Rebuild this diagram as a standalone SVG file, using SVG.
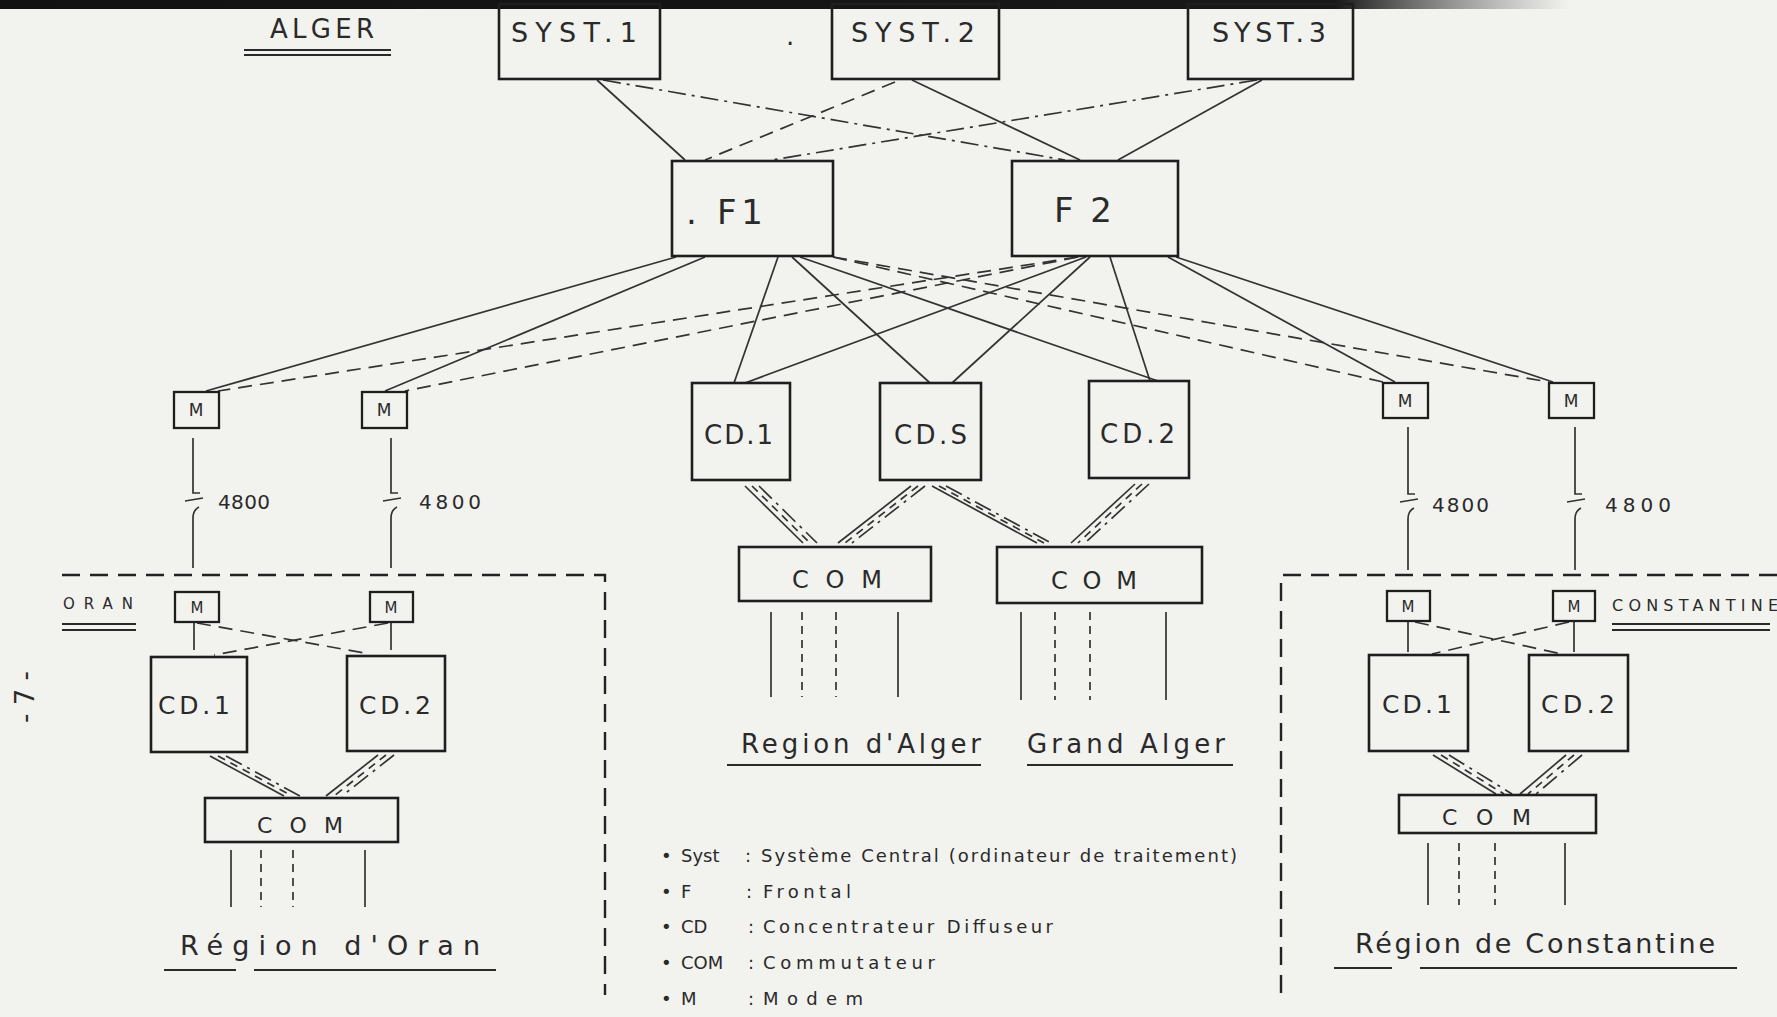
<svg xmlns="http://www.w3.org/2000/svg" width="1777" height="1017" viewBox="0 0 1777 1017">
<defs>
<style>
.box{fill:none;stroke:#1e1e1e;stroke-width:2.6}
.mb{fill:none;stroke:#1e1e1e;stroke-width:2.3}
.ln{fill:none;stroke:#333;stroke-width:1.7}
.dsh{stroke-dasharray:14 8}
.dd{stroke-dasharray:18 6 3 6}
.sd{stroke-dasharray:8 6}
.brd{fill:none;stroke:#222;stroke-width:2.4;stroke-dasharray:18 10}
.ul{fill:none;stroke:#2a2a2a;stroke-width:1.8}
.t{font-family:"DejaVu Sans","Liberation Sans",sans-serif;fill:#2a2a2a}
.c{text-anchor:middle}
</style>
<linearGradient id="band" x1="0" x2="1" y1="0" y2="0">
<stop offset="0" stop-color="#111"/>
<stop offset="0.85" stop-color="#181818"/>
<stop offset="1" stop-color="#555" stop-opacity="0"/>
</linearGradient>
</defs>
<rect width="1777" height="1017" fill="#f2f2ef"/>
<rect x="0" y="0" width="1570" height="9" fill="url(#band)"/>

<g id="connectors">
<!-- SYST -> F -->
<line class="ln" x1="597" y1="80" x2="685" y2="160"/>
<line class="ln dd" x1="603" y1="80" x2="1065" y2="160"/>
<line class="ln dsh" x1="895" y1="82" x2="705" y2="160"/>
<line class="ln" x1="912" y1="80" x2="1080" y2="160"/>
<line class="ln dd" x1="1257" y1="80" x2="772" y2="160"/>
<line class="ln" x1="1262" y1="80" x2="1118" y2="160"/>
<!-- F -> M -->
<line class="ln" x1="676" y1="257" x2="206" y2="391"/>
<line class="ln" x1="705" y1="257" x2="385" y2="391"/>
<line class="ln dsh" x1="1078" y1="257" x2="218" y2="391"/>
<line class="ln dsh" x1="1078" y1="257" x2="405" y2="391"/>
<line class="ln" x1="1168" y1="257" x2="1395" y2="382"/>
<line class="ln" x1="1176" y1="257" x2="1553" y2="382"/>
<line class="ln dsh" x1="833" y1="257" x2="1383" y2="382"/>
<line class="ln dsh" x1="833" y1="257" x2="1549" y2="382"/>
<!-- F -> CD -->
<line class="ln" x1="778" y1="257" x2="734" y2="383"/>
<line class="ln" x1="792" y1="257" x2="930" y2="383"/>
<line class="ln" x1="800" y1="257" x2="1158" y2="381"/>
<line class="ln" x1="1086" y1="257" x2="745" y2="383"/>
<line class="ln" x1="1090" y1="257" x2="952" y2="383"/>
<line class="ln" x1="1110" y1="257" x2="1150" y2="381"/>
<!-- 4800 links -->
<path class="ln" d="M193,438 V493 H200 M185,501 L203,498 M199,507 Q193,510 193,518 V568"/>
<path class="ln" d="M391,438 V493 H398 M383,501 L401,498 M397,507 Q391,510 391,518 V568"/>
<path class="ln" d="M1408,427 V494 H1415 M1400,502 L1418,499 M1414,508 Q1408,511 1408,519 V570"/>
<path class="ln" d="M1575,427 V494 H1582 M1567,502 L1585,499 M1581,508 Q1575,511 1575,519 V570"/>
<!-- central CD -> COM bundles -->
<line class="ln" x1="745" y1="486" x2="803" y2="543"/>
<line class="ln sd" x1="752" y1="486" x2="810" y2="543"/>
<line class="ln dd" x1="759" y1="486" x2="817" y2="543"/>
<line class="ln" x1="911" y1="486" x2="838" y2="543"/>
<line class="ln sd" x1="918" y1="486" x2="845" y2="543"/>
<line class="ln dd" x1="925" y1="486" x2="852" y2="543"/>
<line class="ln" x1="932" y1="486" x2="1037" y2="543"/>
<line class="ln sd" x1="939" y1="486" x2="1044" y2="543"/>
<line class="ln dd" x1="946" y1="486" x2="1051" y2="543"/>
<line class="ln" x1="1135" y1="484" x2="1071" y2="543"/>
<line class="ln sd" x1="1142" y1="484" x2="1078" y2="543"/>
<line class="ln dd" x1="1149" y1="484" x2="1085" y2="543"/>
<!-- central COM outputs -->
<line class="ln" x1="771" y1="612" x2="771" y2="697"/>
<line class="ln sd" x1="802" y1="612" x2="802" y2="697"/>
<line class="ln sd" x1="836" y1="612" x2="836" y2="697"/>
<line class="ln" x1="898" y1="612" x2="898" y2="697"/>
<line class="ln" x1="1021" y1="612" x2="1021" y2="700"/>
<line class="ln sd" x1="1055" y1="612" x2="1055" y2="700"/>
<line class="ln sd" x1="1090" y1="612" x2="1090" y2="700"/>
<line class="ln" x1="1166" y1="612" x2="1166" y2="700"/>
<!-- Oran -->
<line class="ln" x1="194" y1="623" x2="194" y2="650"/>
<line class="ln" x1="391" y1="623" x2="391" y2="650"/>
<line class="ln dsh" x1="197" y1="623" x2="370" y2="654"/>
<line class="ln dsh" x1="388" y1="623" x2="214" y2="655"/>
<line class="ln" x1="210" y1="756" x2="284" y2="796"/>
<line class="ln sd" x1="218" y1="756" x2="292" y2="796"/>
<line class="ln dd" x1="226" y1="756" x2="300" y2="796"/>
<line class="ln" x1="378" y1="755" x2="326" y2="796"/>
<line class="ln sd" x1="386" y1="755" x2="334" y2="796"/>
<line class="ln dd" x1="394" y1="755" x2="342" y2="796"/>
<line class="ln" x1="231" y1="850" x2="231" y2="907"/>
<line class="ln sd" x1="261" y1="850" x2="261" y2="907"/>
<line class="ln sd" x1="293" y1="850" x2="293" y2="907"/>
<line class="ln" x1="365" y1="850" x2="365" y2="907"/>
<!-- Constantine -->
<line class="ln" x1="1408" y1="622" x2="1408" y2="652"/>
<line class="ln" x1="1574" y1="622" x2="1574" y2="652"/>
<line class="ln dsh" x1="1415" y1="622" x2="1562" y2="654"/>
<line class="ln dsh" x1="1569" y1="622" x2="1432" y2="654"/>
<line class="ln" x1="1433" y1="755" x2="1496" y2="794"/>
<line class="ln sd" x1="1441" y1="755" x2="1504" y2="794"/>
<line class="ln dd" x1="1449" y1="755" x2="1512" y2="794"/>
<line class="ln" x1="1566" y1="755" x2="1520" y2="794"/>
<line class="ln sd" x1="1574" y1="755" x2="1528" y2="794"/>
<line class="ln dd" x1="1582" y1="755" x2="1536" y2="794"/>
<line class="ln" x1="1428" y1="843" x2="1428" y2="905"/>
<line class="ln sd" x1="1459" y1="843" x2="1459" y2="905"/>
<line class="ln sd" x1="1495" y1="843" x2="1495" y2="905"/>
<line class="ln" x1="1565" y1="843" x2="1565" y2="905"/>
</g>

<g id="regions">
<path class="brd" d="M62,575 H605 V995"/>
<path class="brd" d="M1777,575 H1281 V995"/>
</g>

<g id="alger-label">
<text class="t" x="270" y="38" font-size="26" textLength="104" lengthAdjust="spacing">ALGER</text>
<line class="ul" x1="244" y1="50" x2="391" y2="50"/>
<line class="ul" x1="244" y1="55" x2="391" y2="55"/>
</g>

<g id="syst1"><rect class="box" x="499" y="4" width="161" height="75"/><text class="t" x="511" y="42" font-size="27" textLength="126" lengthAdjust="spacing">SYST.1</text></g>
<g id="dot"><text class="t" x="786" y="45" font-size="26">.</text></g>
<g id="syst2"><rect class="box" x="832" y="4" width="167" height="75"/><text class="t" x="851" y="42" font-size="27" textLength="124" lengthAdjust="spacing">SYST.2</text></g>
<g id="syst3"><rect class="box" x="1188" y="4" width="165" height="75"/><text class="t" x="1212" y="42" font-size="27" textLength="114" lengthAdjust="spacing">SYST.3</text></g>

<g id="f1"><rect class="box" x="672" y="161" width="161" height="95"/><text class="t" x="686" y="224" font-size="34" textLength="77" lengthAdjust="spacing">. F1</text></g>
<g id="f2"><rect class="box" x="1012" y="161" width="166" height="95"/><text class="t" x="1054" y="222" font-size="34" textLength="58" lengthAdjust="spacing">F2</text></g>

<g id="m-a"><rect class="mb" x="174" y="392" width="45" height="36"/><text class="t c" x="196" y="416" font-size="17">M</text></g>
<g id="m-b"><rect class="mb" x="362" y="392" width="45" height="36"/><text class="t c" x="384" y="416" font-size="17">M</text></g>
<g id="m-c"><rect class="mb" x="1383" y="383" width="45" height="35"/><text class="t c" x="1405" y="407" font-size="17">M</text></g>
<g id="m-d"><rect class="mb" x="1549" y="383" width="45" height="35"/><text class="t c" x="1571" y="407" font-size="17">M</text></g>

<g id="lbl-4800">
<text class="t" x="218" y="509" font-size="20" textLength="52" lengthAdjust="spacing">4800</text>
<text class="t" x="419" y="509" font-size="20" textLength="62" lengthAdjust="spacing">4800</text>
<text class="t" x="1432" y="512" font-size="20" textLength="57" lengthAdjust="spacing">4800</text>
<text class="t" x="1605" y="512" font-size="20" textLength="66" lengthAdjust="spacing">4800</text>
</g>

<g id="cd1"><rect class="box" x="692" y="383" width="98" height="97"/><text class="t" x="704" y="444" font-size="26" textLength="69" lengthAdjust="spacing">CD.1</text></g>
<g id="cds"><rect class="box" x="880" y="383" width="101" height="97"/><text class="t" x="894" y="444" font-size="26" textLength="73" lengthAdjust="spacing">CD.S</text></g>
<g id="cd2"><rect class="box" x="1089" y="381" width="100" height="97"/><text class="t" x="1100" y="443" font-size="26" textLength="75" lengthAdjust="spacing">CD.2</text></g>

<g id="com1"><rect class="box" x="739" y="547" width="192" height="54"/><text class="t" x="792" y="588" font-size="24" textLength="90" lengthAdjust="spacing">COM</text></g>
<g id="com2"><rect class="box" x="997" y="547" width="205" height="56"/><text class="t" x="1051" y="589" font-size="24" textLength="86" lengthAdjust="spacing">COM</text></g>

<g id="lbl-alger">
<text class="t" x="741" y="753" font-size="26" textLength="240" lengthAdjust="spacing">Region d'Alger</text>
<line class="ul" x1="727" y1="765" x2="981" y2="765"/>
<text class="t" x="1027" y="753" font-size="26" textLength="198" lengthAdjust="spacing">Grand Alger</text>
<line class="ul" x1="1027" y1="765" x2="1233" y2="765"/>
</g>

<g id="oran">
<text class="t" x="63" y="609" font-size="15" textLength="70" lengthAdjust="spacing">ORAN</text>
<line class="ul" x1="62" y1="624" x2="136" y2="624"/>
<line class="ul" x1="62" y1="630" x2="136" y2="630"/>
</g>
<g id="oran-m1"><rect class="mb" x="175" y="592" width="44" height="30"/><text class="t c" x="197" y="613" font-size="15">M</text></g>
<g id="oran-m2"><rect class="mb" x="370" y="592" width="43" height="30"/><text class="t c" x="391" y="613" font-size="15">M</text></g>
<g id="oran-cd1"><rect class="box" x="151" y="657" width="96" height="95"/><text class="t" x="158" y="714" font-size="25" textLength="72" lengthAdjust="spacing">CD.1</text></g>
<g id="oran-cd2"><rect class="box" x="347" y="656" width="98" height="95"/><text class="t" x="359" y="714" font-size="25" textLength="72" lengthAdjust="spacing">CD.2</text></g>
<g id="oran-com"><rect class="box" x="205" y="798" width="193" height="44"/><text class="t" x="257" y="833" font-size="22" textLength="86" lengthAdjust="spacing">COM</text></g>
<g id="lbl-oran">
<text class="t" x="180" y="955" font-size="27" textLength="300" lengthAdjust="spacing">Région d'Oran</text>
<line class="ul" x1="164" y1="970" x2="236" y2="970"/>
<line class="ul" x1="254" y1="970" x2="496" y2="970"/>
</g>

<g id="constantine">
<text class="t" x="1612" y="611" font-size="16" textLength="166" lengthAdjust="spacing">CONSTANTINE</text>
<line class="ul" x1="1612" y1="624" x2="1770" y2="624"/>
<line class="ul" x1="1612" y1="630" x2="1770" y2="630"/>
</g>
<g id="const-m1"><rect class="mb" x="1387" y="591" width="43" height="30"/><text class="t c" x="1408" y="612" font-size="15">M</text></g>
<g id="const-m2"><rect class="mb" x="1553" y="591" width="42" height="30"/><text class="t c" x="1574" y="612" font-size="15">M</text></g>
<g id="const-cd1"><rect class="box" x="1369" y="655" width="99" height="96"/><text class="t" x="1382" y="713" font-size="25" textLength="70" lengthAdjust="spacing">CD.1</text></g>
<g id="const-cd2"><rect class="box" x="1529" y="655" width="99" height="96"/><text class="t" x="1541" y="713" font-size="25" textLength="74" lengthAdjust="spacing">CD.2</text></g>
<g id="const-com"><rect class="box" x="1399" y="795" width="197" height="38"/><text class="t" x="1442" y="825" font-size="22" textLength="89" lengthAdjust="spacing">COM</text></g>
<g id="lbl-const">
<text class="t" x="1355" y="953" font-size="27" textLength="360" lengthAdjust="spacing">Région de Constantine</text>
<line class="ul" x1="1334" y1="968" x2="1392" y2="968"/>
<line class="ul" x1="1420" y1="968" x2="1737" y2="968"/>
</g>

<g id="legend" class="t" font-size="18">
<text x="661" y="862">•</text><text x="681" y="862">Syst</text><text x="745" y="862">:</text><text x="761" y="862" textLength="476" lengthAdjust="spacing">Système Central (ordinateur de traitement)</text>
<text x="661" y="898">•</text><text x="681" y="898">F</text><text x="746" y="898">:</text><text x="763" y="898" textLength="88" lengthAdjust="spacing">Frontal</text>
<text x="661" y="933">•</text><text x="681" y="933">CD</text><text x="748" y="933">:</text><text x="763" y="933" textLength="290" lengthAdjust="spacing">Concentrateur Diffuseur</text>
<text x="661" y="969">•</text><text x="681" y="969">COM</text><text x="748" y="969">:</text><text x="763" y="969" textLength="172" lengthAdjust="spacing">Commutateur</text>
<text x="661" y="1005">•</text><text x="681" y="1005">M</text><text x="748" y="1005">:</text><text x="763" y="1005" textLength="100" lengthAdjust="spacing">Modem</text>
</g>

<g id="page-number">
<text class="t c" x="0" y="0" font-size="26" transform="translate(34,697) rotate(-90)">- 7 -</text>
</g>
</svg>
